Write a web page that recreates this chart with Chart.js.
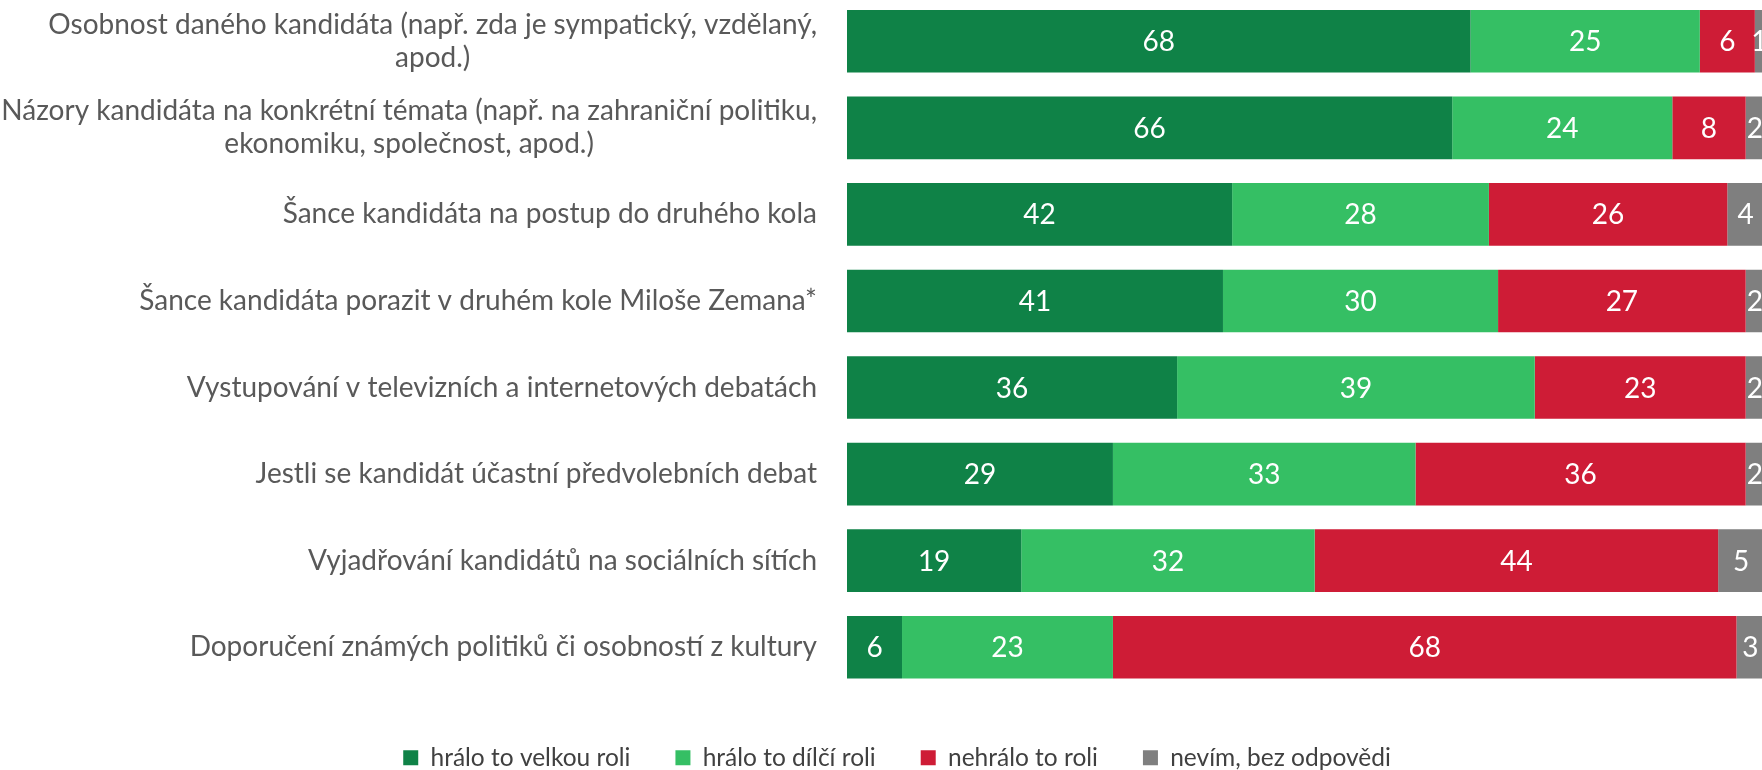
<!DOCTYPE html>
<html>
<head>
<meta charset="utf-8">
<script src="https://cdn.jsdelivr.net/npm/chart.js@4.4.0/dist/chart.umd.min.js"></script>
<style>
html, body { margin: 0; padding: 0; background: #fff; overflow: hidden; width: 1762px; height: 770px; }
#wrap { position: absolute; left: 0; top: -2px; width: 1764px; height: 782px; }
</style>
</head>
<body>
<div id="wrap"><canvas id="chartBar"></canvas></div>
<script>
const categories = [
    ["Osobnost daného kandidáta (např. zda je sympatický, vzdělaný,", "apod.)"],
    ["Názory kandidáta na konkrétní témata (např. na zahraniční politiku,", "ekonomiku, společnost, apod.)"],
    ["Šance kandidáta na postup do druhého kola"],
    ["Šance kandidáta porazit v druhém kole Miloše Zemana*"],
    ["Vystupování v televizních a internetových debatách"],
    ["Jestli se kandidát účastní předvolebních debat"],
    ["Vyjadřování kandidátů na sociálních sítích"],
    ["Doporučení známých politiků či osobností z kultury"],
];
const seriesNames = ["hrálo to velkou roli", "hrálo to dílčí roli", "nehrálo to roli", "nevím, bez odpovědi"];
const velkaRole = [68, 66, 42, 41, 36, 29, 19, 6];
const dilciRole = [25, 24, 28, 30, 39, 33, 32, 23];
const zadnaRole = [6, 8, 26, 27, 23, 36, 44, 68];
const nevim = [1, 2, 4, 2, 2, 2, 5, 3];
const colors = ["#0f8247", "#35bf64", "#ce1c36", "#7f7f7f"];

const FONT = "Lato";

// popisky kategorii vlevo - radky centrovane v bloku zarovnanem doprava
const categoryLabels = {
    id: "categoryLabels",
    afterDraw(chart) {
        const ctx = chart.ctx;
        const yScale = chart.scales.y;
        const right = chart.chartArea.left - 30;
        ctx.save();
        ctx.font = "28px " + FONT;
        ctx.fillStyle = "#595959";
        ctx.textAlign = "center";
        ctx.textBaseline = "middle";
        categories.forEach((lines, i) => {
            const w = Math.max(...lines.map(l => ctx.measureText(l).width));
            const cx = right - w / 2;
            const cy = yScale.getPixelForValue(i);
            lines.forEach((l, j) => {
                ctx.fillText(l, cx, cy + (j - (lines.length - 1) / 2) * 33);
            });
        });
        ctx.restore();
    },
};

// hodnoty uvnitr segmentu
const valueLabels = {
    id: "valueLabels",
    afterDatasetsDraw(chart) {
        const ctx = chart.ctx;
        ctx.save();
        ctx.font = "28px " + FONT;
        ctx.fillStyle = "#ffffff";
        ctx.textAlign = "center";
        ctx.textBaseline = "middle";
        chart.data.datasets.forEach((ds, di) => {
            chart.getDatasetMeta(di).data.forEach((bar, i) => {
                ctx.fillText(String(ds.data[i]), (bar.x + bar.base) / 2, bar.y + 1);
            });
        });
        ctx.restore();
    },
};

const chartBar = new Chart("chartBar", {
    type: "bar",
    data: {
        labels: categories,
        datasets: [
            { label: seriesNames[0], data: velkaRole, backgroundColor: colors[0] },
            { label: seriesNames[1], data: dilciRole, backgroundColor: colors[1] },
            { label: seriesNames[2], data: zadnaRole, backgroundColor: colors[2] },
            { label: seriesNames[3], data: nevim, backgroundColor: colors[3] },
        ],
    },
    options: {
        indexAxis: "y",
        responsive: true,
        maintainAspectRatio: false,
        animation: false,
        layout: { padding: { left: 30, right: 0, top: 0, bottom: 0 } },
        datasets: {
            bar: { barPercentage: 1, categoryPercentage: 0.723, borderWidth: 0 },
        },
        scales: {
            x: {
                stacked: true,
                min: 0,
                max: 100,
                grid: { display: false },
                border: { display: false },
                ticks: { display: false },
                afterFit(scale) { scale.height = 10; },
            },
            y: {
                stacked: true,
                grid: { display: false },
                border: { display: false },
                ticks: { display: false },
                afterFit(scale) { scale.width = 817; },
            },
        },
        plugins: {
            legend: {
                position: "bottom",
                labels: {
                    boxWidth: 15,
                    boxHeight: 15,
                    padding: 45,
                    color: "#404040",
                    font: { family: FONT, size: 24.5 },
                },
            },
            tooltip: { enabled: false },
        },
    },
    plugins: [categoryLabels, valueLabels],
});
</script>
</body>
</html>
